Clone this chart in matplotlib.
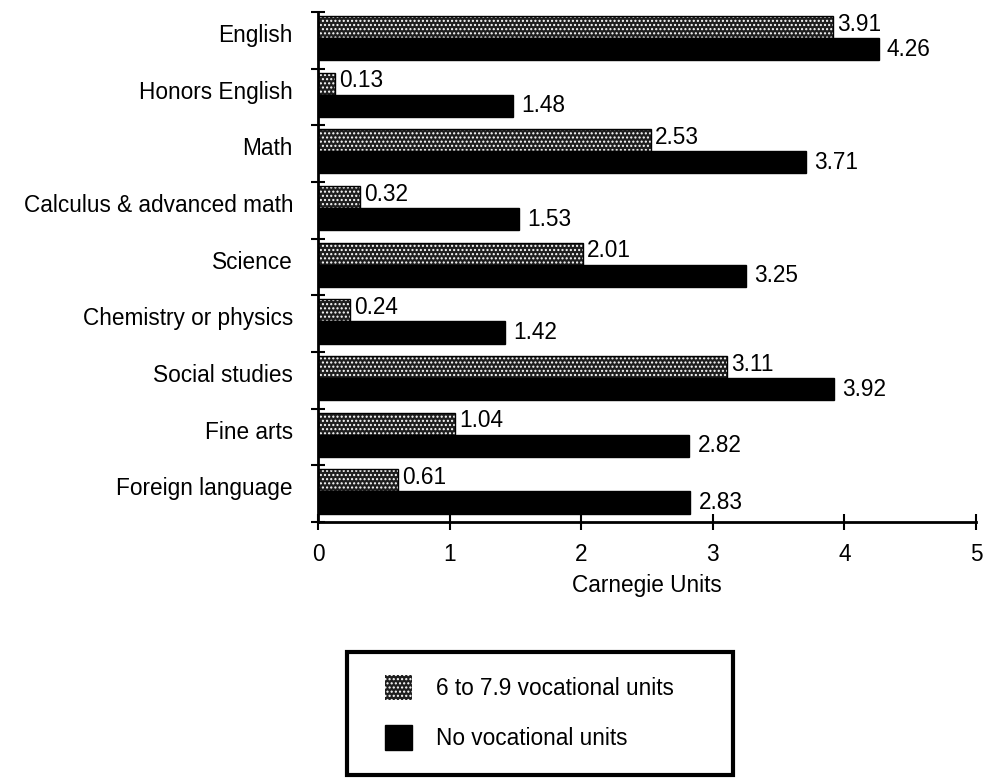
import matplotlib
matplotlib.use("Agg")
import matplotlib.pyplot as plt
from matplotlib.patches import Patch, Rectangle
from matplotlib.legend_handler import HandlerPatch
import numpy as np

categories = ["English", "Honors English", "Math", "Calculus & advanced math",
              "Science", "Chemistry or physics", "Social studies", "Fine arts",
              "Foreign language"]
voc_6_79 = [3.91, 0.13, 2.53, 0.32, 2.01, 0.24, 3.11, 1.04, 0.61]
no_voc = [4.26, 1.48, 3.71, 1.53, 3.25, 1.42, 3.92, 2.82, 2.83]
series_labels = ["6 to 7.9 vocational units", "No vocational units"]
xticks = [0, 1, 2, 3, 4, 5]

plt.rcParams['font.family'] = ['Liberation Sans', 'DejaVu Sans']
FS = 16.3

fig = plt.figure(figsize=(9.89, 7.78), dpi=100)
ax = fig.add_axes([318/989, 1-522/778, (976-318)/989, (522-12)/778])

y = np.arange(len(categories))
h = 0.39
yp = y - 0.235
yb = y + 0.155

# patterned bars: dark with white dots
ax.barh(yp, voc_6_79, height=h, color='#1e1e1e', edgecolor='white', hatch='....', linewidth=0)
ax.barh(yp, voc_6_79, height=h, fill=False, edgecolor='black', linewidth=1)
ax.barh(yb, no_voc, height=h, color='black', edgecolor='black', linewidth=1)

for yy, v in zip(yp, voc_6_79):
    ax.annotate(f"{v:.2f}", (v, yy), xytext=(3, 2), textcoords='offset points',
                va='center', ha='left', fontsize=FS)
for yy, v in zip(yb, no_voc):
    ax.annotate(f"{v:.2f}", (v, yy), xytext=(6, 0), textcoords='offset points',
                va='center', ha='left', fontsize=FS)

ax.set_xlim(0, 5)
ax.set_ylim(len(categories) - 0.5, -0.5)
ax.set_xticks(xticks)
ax.set_xticklabels([str(t) for t in xticks], fontsize=FS)
ax.set_yticks(np.arange(-0.5, len(categories), 1.0))
ax.set_yticklabels([])
ax.set_yticks(y - 0.13, minor=True)
ax.set_yticklabels(categories, minor=True, fontsize=FS)
ax.tick_params(axis='y', which='major', direction='inout', length=10, width=1.5)
ax.tick_params(axis='y', which='minor', length=0, pad=18)
ax.tick_params(axis='x', direction='inout', length=12, width=1.5, pad=9)
ax.set_xlabel("Carnegie Units", fontsize=FS, labelpad=6)

for s in ['top', 'right']:
    ax.spines[s].set_visible(False)
for s in ['left', 'bottom']:
    ax.spines[s].set_linewidth(2)


def small_box(legend, orig_handle, xdescent, ydescent, width, height, fontsize):
    # square patch drawn in the right part of the handle area
    w = 27.0 * 72 / 100
    hh = 25.0 * 72 / 100
    return Rectangle((-xdescent + width - w, -ydescent + (height - hh) / 2), w, hh)


handles = [Patch(facecolor='#1e1e1e', edgecolor='white', hatch='....', linewidth=0),
           Patch(facecolor='black', edgecolor='black')]
leg = fig.legend(handles, series_labels, loc='upper left',
                 bbox_to_anchor=(347/989, 1-777/778, 386/989, (777-652)/778),
                 mode='expand', fontsize=FS, frameon=True, fancybox=False,
                 borderpad=1.1, labelspacing=1.15, handlelength=1.75, handleheight=1.1,
                 handletextpad=1.1, borderaxespad=0, framealpha=1,
                 handler_map={Patch: HandlerPatch(patch_func=small_box)})
leg.get_frame().set_edgecolor('black')
leg.get_frame().set_linewidth(3)

fig.savefig("out.png", dpi=100)
